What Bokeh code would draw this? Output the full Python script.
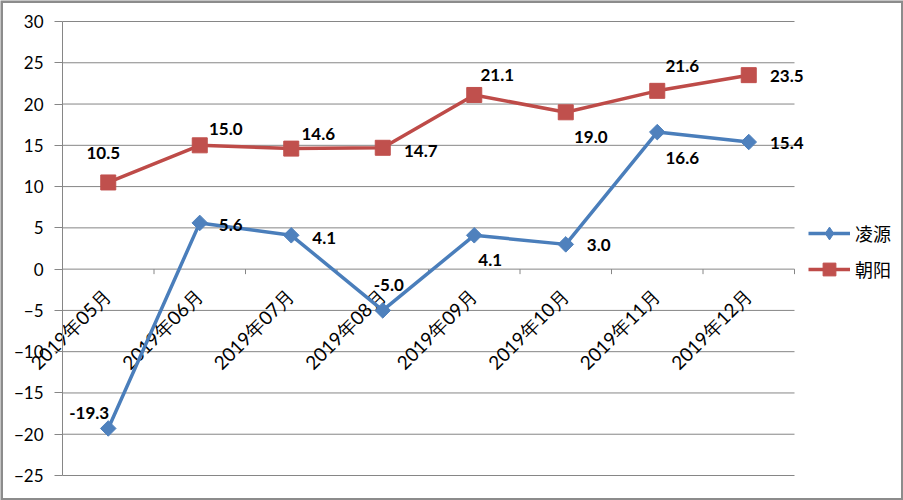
import numpy as np
from bokeh.plotting import figure
from bokeh.models import Range1d, FixedTicker, Legend, LegendItem, ColumnDataSource
from bokeh.core.properties import value
from bokeh.embed import file_html
from bokeh.resources import INLINE

# ---- data ----
months = ["2019年05月", "2019年06月", "2019年07月", "2019年08月",
          "2019年09月", "2019年10月", "2019年11月", "2019年12月"]
lingyuan = [-19.3, 5.6, 4.1, -5.0, 4.1, 3.0, 16.6, 15.4]
chaoyang = [10.5, 15.0, 14.6, 14.7, 21.1, 19.0, 21.6, 23.5]
y_ticks = [-25, -20, -15, -10, -5, 0, 5, 10, 15, 20, 25, 30]

# ---- label placement (screen px, style only) ----
cy_dx = [-5, 26, 27, 38, 23, 25, 25, 38]
cy_dy = [-29, -16, -15, 3, -20, 25, -25, 1]
ly_dx = [-19, 31, 33, 6, 16, 33, 25, 38]
ly_dy = [-15, 2, 3, -25, 25, 1, 26, 1]

BLUE = "#4A7EBB"
BLUE_M = "#4F81BD"
RED = "#BE4B48"
RED_M = "#C0504D"
GRID = "#868686"
FRAME = "#8C8C8C"

# ---- layout in pixels ----
W, H = 903, 500
PL, PR, PT, PB = 62, 794, 21, 475          # plot-area box inside the canvas
n = len(months)
ymin, ymax = y_ticks[0], y_ticks[-1]
sx = (PR - PL) / n
sy = (PB - PT) / (ymax - ymin)
x0r, x1r = -PL / sx, n + (W - PR) / sx
y0r, y1r = ymin - (H - PB) / sy, ymax + PT / sy

x = np.arange(n) + 0.5

p = figure(width=W, height=H, min_border=0,
           x_range=Range1d(x0r, x1r), y_range=Range1d(y0r, y1r),
           output_backend="svg", toolbar_location=None)
p.outline_line_color = None
p.background_fill_color = "white"
p.border_fill_color = "white"
p.xaxis.visible = False
p.xgrid.visible = False
p.ygrid.visible = False

# chart-area border
p.quad(left=[x0r], right=[x1r], bottom=[y0r], top=[y1r],
       fill_color=None, line_color=FRAME, line_width=5)

# y axis placed at x = 0
ax = p.yaxis[0]
ax.fixed_location = 0
ax.bounds = (ymin, ymax)
ax.ticker = FixedTicker(ticks=y_ticks)
ax.major_tick_out = 8
ax.major_tick_in = 0
ax.minor_tick_line_color = None
ax.axis_line_color = GRID
ax.major_tick_line_color = GRID
ax.major_label_standoff = 11
ax.major_label_text_font = "Lato"
ax.major_label_text_font_size = "17px"
ax.major_label_text_color = "black"

# horizontal gridlines over the plot area only
p.segment(x0=np.zeros(len(y_ticks)), y0=y_ticks, x1=np.full(len(y_ticks), n), y1=y_ticks,
          line_color=GRID, line_width=1)

# category axis at y = 0 with ticks between categories
bounds = np.arange(n + 1)
p.segment(x0=bounds, y0=np.zeros(len(bounds)), x1=bounds,
          y1=np.full(len(bounds), -5 / sy), line_color=GRID, line_width=1)
p.text(x=x, y=np.zeros(n), text=months, angle=np.pi / 4,
       text_align="right", text_baseline="middle", x_offset=-1, y_offset=23,
       text_font=value("Lato"), text_font_size="19px",
       text_color="black")

# series
src_l = ColumnDataSource(dict(x=x, y=lingyuan, t=[f"{v:.1f}" for v in lingyuan], dx=ly_dx, dy=ly_dy))
src_c = ColumnDataSource(dict(x=x, y=chaoyang, t=[f"{v:.1f}" for v in chaoyang], dx=cy_dx, dy=cy_dy))

l1 = p.line("x", "y", source=src_l, line_color=BLUE, line_width=3.5)
# diamond used by the legend swatch (hidden under the main markers)
d1 = p.scatter("x", "y", source=src_l, marker="diamond", size=11,
               fill_color=BLUE_M, line_color=BLUE_M)
m1 = p.scatter("x", "y", source=src_l, marker="square", angle=np.pi / 4, size=11,
               fill_color=BLUE_M, line_color=BLUE_M)
l2 = p.line("x", "y", source=src_c, line_color=RED, line_width=3.5)
m2 = p.scatter("x", "y", source=src_c, marker="square", size=15,
               fill_color=RED_M, line_color=RED_M)

for s in (src_l, src_c):
    p.text("x", "y", text="t", source=s, x_offset="dx", y_offset="dy",
           text_align="center", text_baseline="middle",
           text_font=value("Lato"), text_font_size="17px", text_font_style="bold",
           text_color="black")

legend = Legend(items=[LegendItem(label="凌源", renderers=[l1, d1]),
                       LegendItem(label="朝阳", renderers=[l2, m2])],
                location=(808, H - 285), orientation="vertical",
                glyph_width=42, glyph_height=32, spacing=4, padding=0, margin=0,
                label_standoff=5, label_text_font="Noto Sans CJK SC",
                label_text_font_size="18px", label_text_color="black",
                border_line_color=None, background_fill_alpha=0)
p.add_layout(legend, "center")

open("out.html", "w").write(file_html(p, INLINE))
